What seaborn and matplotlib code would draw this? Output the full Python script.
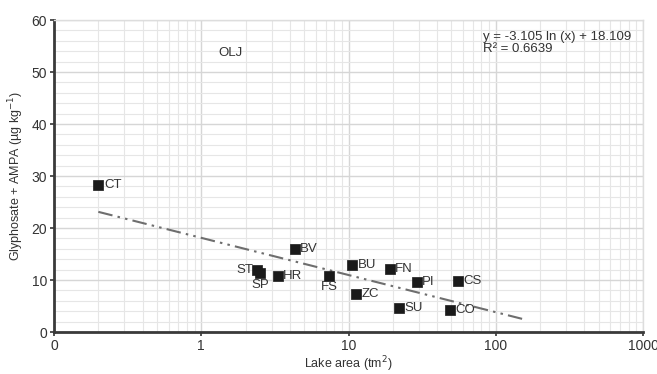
import numpy as np
import pandas as pd
import matplotlib
matplotlib.use("Agg")
import matplotlib.pyplot as plt
import seaborn as sns
from matplotlib.ticker import FixedLocator, NullFormatter, MultipleLocator

lakes = ["CT", "ST", "SP", "HR", "BV", "FS", "BU", "ZC", "FN", "PI", "CS", "SU", "CO"]
area = [0.2, 2.4, 2.5, 3.3, 4.3, 7.4, 10.6, 11.3, 19.0, 29.0, 55.0, 22.0, 48.6]
conc = [28.3, 11.9, 11.3, 10.7, 16.0, 10.8, 12.9, 7.3, 12.1, 9.6, 9.8, 4.6, 4.2]
label_pos = ["right", "left", "below", "right", "right", "below", "right", "right",
             "right", "right", "right", "right", "right"]

fit_slope = -3.105
fit_intercept = 18.109
fit_range = [0.2, 155.0]
fit_text = "y = -3.105 ln (x) + 18.109\nR² = 0.6639"
panel_text = "OLJ"

x_ticks = [0.1, 1, 10, 100, 1000]
x_ticklabels = ["0", "1", "10", "100", "1000"]
y_ticks = [0, 10, 20, 30, 40, 50, 60]

df = pd.DataFrame({"lake": lakes, "area": area, "conc": conc})

sns.set_style("white")
plt.rcParams["font.family"] = ["Liberation Sans", "DejaVu Sans"]
text_col = "#333333"

fig = plt.figure(figsize=(6.57, 3.74), dpi=100)
ax = fig.add_axes([54/657, 1-332/374, (643-54)/657, (332-20)/374])

ax.set_xscale("log")
ax.set_xlim(0.1, 1000)
ax.set_ylim(0, 60)

# grid
ax.set_xticks(x_ticks)
ax.set_xticklabels(x_ticklabels)
minor_x = [m * 10.0**d for d in range(-1, 3) for m in range(2, 10)]
ax.xaxis.set_minor_locator(FixedLocator(minor_x))
ax.xaxis.set_minor_formatter(NullFormatter())
ax.set_yticks(y_ticks)
ax.yaxis.set_minor_locator(MultipleLocator(2))
ax.grid(which="major", color="#d6d6d6", linewidth=1.0)
ax.grid(which="minor", color="#e6e6e6", linewidth=0.8)
ax.set_axisbelow(True)

# trend line
xf = np.geomspace(fit_range[0], fit_range[1], 200)
yf = fit_slope * np.log(xf) + fit_intercept
sns.lineplot(x=xf, y=yf, ax=ax, color="#6e6e6e", linewidth=1.5,
             dashes=False, zorder=2)
ax.lines[-1].set_dashes([7, 2.5, 1.2, 2.5, 1.2, 2.5])

sns.scatterplot(data=df, x="area", y="conc", ax=ax, marker="s", s=55,
                color="#1a1a1a", edgecolor="#1a1a1a", linewidth=0.5, zorder=3)

for name, xa, yc, pos in zip(lakes, area, conc, label_pos):
    if pos == "right":
        ax.annotate(name, (xa, yc), xytext=(4, 0), textcoords="offset points",
                    ha="left", va="center", fontsize=9.5, color=text_col)
    elif pos == "left":
        ax.annotate(name, (xa, yc), xytext=(-3, 0), textcoords="offset points",
                    ha="right", va="center", fontsize=9.5, color=text_col)
    else:
        ax.annotate(name, (xa, yc), xytext=(0, -4), textcoords="offset points",
                    ha="center", va="top", fontsize=9.5, color=text_col)

ax.text(1.57, 53.7, panel_text, ha="center", va="center", fontsize=9.5, color=text_col)
ax.text(81.6, 57.8, fit_text, ha="left", va="top", fontsize=9.5, color=text_col,
        linespacing=0.95)

ax.set_xlabel("Lake area (tm$^2$)", fontsize=9, color=text_col, labelpad=1)
ax.set_ylabel("Glyphosate + AMPA (µg kg$^{-1}$)", fontsize=9, color=text_col, labelpad=4)

for side in ["left", "bottom"]:
    ax.spines[side].set_color("#3a3a3a")
    ax.spines[side].set_linewidth(2.0)
for side in ["top", "right"]:
    ax.spines[side].set_color("#dddddd")
    ax.spines[side].set_linewidth(1.0)

ax.tick_params(axis="both", which="major", labelsize=10, colors=text_col,
               length=3, width=1.2, direction="out", left=True, bottom=True, pad=2)
ax.tick_params(axis="both", which="minor", length=0)

fig.savefig("out.png", dpi=100)
